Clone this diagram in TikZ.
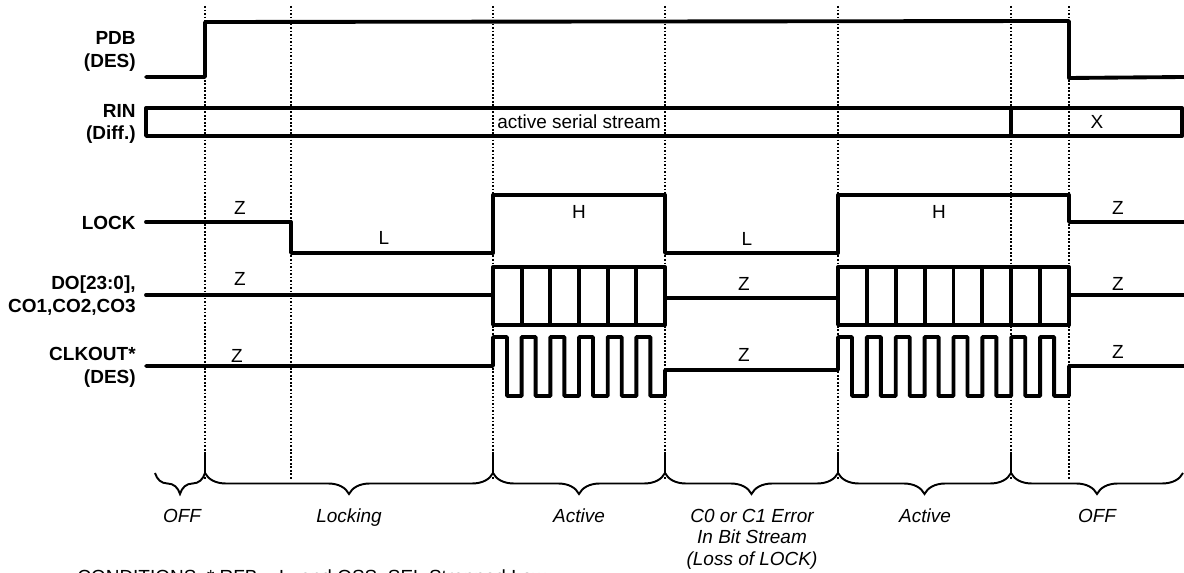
\documentclass[tikz,border=0pt]{standalone}
\usepackage{fontspec}
\setmainfont{Liberation Sans}
\usetikzlibrary{decorations.pathreplacing}

\begin{document}
\begin{tikzpicture}[x=0.02cm,y=-0.02cm,
    sig/.style={line width=2.2pt,line cap=round,line join=round},
    grid/.style={line width=0.7pt,dash pattern=on 1pt off 1pt},
    lbl/.style={font=\bfseries\fontsize{10.8}{13}\selectfont,align=right,anchor=east,inner sep=0pt},
    txt/.style={font=\fontsize{10.8}{13}\selectfont,inner sep=0pt},
    phase/.style={font=\itshape\fontsize{10.8}{12.3}\selectfont,align=center,anchor=north,inner sep=0pt},
    brc/.style={decorate,decoration={brace,mirror,amplitude=0.42cm},line width=1.1pt}]
      \useasboundingbox (0,0) rectangle (1184,573);
      % time marks
      \foreach \t in {205,291,493,665,838,1011,1069}
        \draw[grid] (\t,6) -- (\t,480);
      % signal names
      \node[lbl] (pdbl) at (136,51.5) {PDB\\(DES)};
      \node[lbl] (rinl) at (136,124) {RIN\\(Diff.)};
      \node[lbl] (lockl) at (136,223) {LOCK};
      \node[lbl] (dol) at (136,295.5) {DO[23:0],\\CO1,CO2,CO3};
      \node[lbl] (clkl) at (136,367.5) {CLKOUT*\\(DES)};
      % PDB
      \draw[sig] (146,77) -- (205,77) -- (205,22) -- (1069,21) -- (1069,78) -- (1184,77);
      % RIN
      \draw[sig] (146,108) rectangle (1182,136);
      \draw[sig] (1011,108) -- (1011,136);
      \node[txt] (rin1) at (579,122) {active serial stream};
      \node[txt] (rin2) at (1097,122) {X};
      % LOCK
      \draw[sig] (146,222) -- (291,222) -- (291,253) -- (493,253) -- (493,195) -- (665,195)
        -- (665,253) -- (838,253) -- (838,195) -- (1069,195) -- (1069,222) -- (1184,222);
      \node[txt] (lock1) at (240,208) {Z};
      \node[txt] (lock2) at (384,238) {L};
      \node[txt] (lock3) at (579,212) {H};
      \node[txt] (lock4) at (747,239) {L};
      \node[txt] (lock5) at (939,212) {H};
      \node[txt] (lock6) at (1118,208) {Z};
      % DO / CO
      \draw[sig] (146,295) -- (493,295);
      \draw[sig] (493,267) rectangle (665,325);
      \foreach \k in {1,...,5}
        \draw[sig] ({493+28.67*\k},267) -- ++(0,58);
      \draw[sig] (665,298) -- (838,298);
      \draw[sig] (838,267) rectangle (1069,325);
      \foreach \k in {1,...,7}
        \draw[sig] ({838+28.875*\k},267) -- ++(0,58);
      \draw[sig] (1069,295) -- (1184,295);
      \node[txt] (do1) at (240,279) {Z};
      \node[txt] (do2) at (744,284) {Z};
      \node[txt] (do3) at (1118,284) {Z};
      % CLKOUT
      \draw[sig] (146,366) -- (493,366)
        \foreach \k in {0,...,5} { -- ({493+28.67*\k},337) -- ({507+28.67*\k},337)
          -- ({507+28.67*\k},396) -- ({521.67+28.67*\k},396) }
        -- (665,370) -- (838,370)
        \foreach \k in {0,...,7} { -- ({838+28.875*\k},337) -- ({852+28.875*\k},337)
          -- ({852+28.875*\k},396) -- ({866.875+28.875*\k},396) }
        -- (1069,366) -- (1184,366);
      \node[txt] (clk1) at (237,356) {Z};
      \node[txt] (clk2) at (744,355) {Z};
      \node[txt] (clk3) at (1118,352) {Z};
      % phases
      \foreach \a/\b in {155/205,205/493,493/665,665/838,838/1011,1011/1183}
        \draw[brc] (\a,473) -- (\b,473);
      \foreach \t in {205,493,665,838,1011}
        \draw[line width=1.1pt] (\t,452) -- (\t,473);
      \node[phase] (off1) at (182,508.5) {OFF};
      \node[phase] (lck) at (349,508.5) {Locking};
      \node[phase] (act1) at (579,508.5) {Active};
      \node[phase] (err) at (752,508.5) {C0 or C1 Error\\In Bit Stream\\(Loss of LOCK)};
      \node[phase] (act2) at (925,508.5) {Active};
      \node[phase] (off2) at (1097,508.5) {OFF};
      \node[txt,anchor=base west] (cond) at (77,584) {CONDITIONS: * RFB = L, and OSS\_SEL Strapped Low};
\end{tikzpicture}
\end{document}
